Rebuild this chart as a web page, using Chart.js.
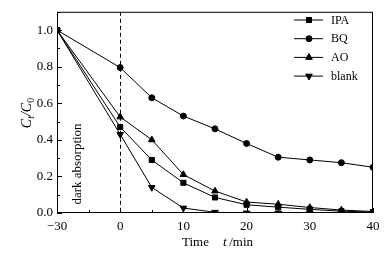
<!DOCTYPE html>
<html>
<head>
<meta charset="utf-8">
<script src="https://cdn.jsdelivr.net/npm/chart.js@4"></script>
<style>
  html, body { margin: 0; padding: 0; background: #fff; }
  #wrap { width: 389px; height: 254px; }
</style>
</head>
<body>
<div id="wrap"><canvas id="decayChart" width="389" height="254"></canvas></div>
<script>
// time (min) and C_t/C_0 values
const times = [-30, 0, 5, 10, 15, 20, 25, 30, 35, 40];
const ipa   = [1.0, 0.47, 0.29, 0.165, 0.085, 0.045, 0.032, 0.02, 0.01, 0.005];
const bq    = [1.0, 0.795, 0.63, 0.53, 0.46, 0.38, 0.305, 0.29, 0.275, 0.25];
const ao    = [1.0, 0.525, 0.40, 0.21, 0.12, 0.06, 0.048, 0.03, 0.016, 0.008];
const blank = [1.0, 0.43, 0.14, 0.027, 0.004, 0.0, 0.0, 0.0, 0.0, 0.0];
const seriesNames = ["IPA", "BQ", "AO", "blank"];
const xTickLabels = ["\u221230", "0", "10", "20", "30", "40"];

// the dark-absorption span (-30..0) is squeezed to look like 10 min on the axis
function axisPos(t) { return t < 0 ? t / 3 : t; }
function realTime(p) { return p < 0 ? p * 3 : p; }

const serif = "'Liberation Serif', 'DejaVu Serif', serif";
const styles = [
  { pointStyle: "rect", radius: 3.6, rotation: 0 },
  { pointStyle: "circle", radius: 3, rotation: 0 },
  { pointStyle: "triangle", radius: 3.8, rotation: 0 },
  { pointStyle: "triangle", radius: 3.8, rotation: 180 }
];

const datasets = [ipa, bq, ao, blank].map(function (vals, i) {
  return {
    label: seriesNames[i],
    data: vals.map(function (v, k) { return { x: axisPos(times[k]), y: v }; }),
    borderColor: "#000",
    backgroundColor: "#000",
    borderWidth: 1,
    pointStyle: styles[i].pointStyle,
    pointRadius: styles[i].radius,
    pointRotation: styles[i].rotation,
    pointBorderWidth: 1,
    tension: 0
  };
});

// inward ticks, dashed line at t = 0, box, legend and titles
const decorations = {
  id: "decorations",
  afterDraw(chart) {
    const ctx = chart.ctx;
    const a = chart.chartArea;
    const xs = chart.scales.x, ys = chart.scales.y;
    ctx.save();
    ctx.strokeStyle = "#000";
    ctx.lineWidth = 1;

    // frame
    ctx.strokeRect(a.left + 0.5, a.top + 0.5, a.right - a.left - 1, a.bottom - a.top - 1);

    // x ticks (inward)
    for (let p = -10; p <= 40; p += 5) {
      const px = Math.round(xs.getPixelForValue(p)) + 0.5;
      const len = (p % 10 === 0) ? 5 : 3;
      ctx.beginPath();
      ctx.moveTo(px, a.bottom);
      ctx.lineTo(px, a.bottom - len);
      ctx.stroke();
    }
    // y ticks (inward)
    for (let k = 0; k <= 11; k++) {
      const py = Math.round(ys.getPixelForValue(k / 10)) + 0.5;
      const len = (k % 2 === 0) ? 5 : 3;
      ctx.beginPath();
      ctx.moveTo(a.left, py);
      ctx.lineTo(a.left + len, py);
      ctx.stroke();
    }

    // dashed line at t = 0
    const x0 = Math.round(xs.getPixelForValue(0)) + 0.5;
    ctx.setLineDash([4, 3]);
    ctx.beginPath();
    ctx.moveTo(x0, a.top);
    ctx.lineTo(x0, a.bottom);
    ctx.stroke();
    ctx.setLineDash([]);

    // legend
    ctx.font = "12px " + serif;
    ctx.textBaseline = "middle";
    ctx.fillStyle = "#000";
    chart.data.datasets.forEach(function (ds, i) {
      const y = 20 + i * 18.7;
      ctx.beginPath();
      ctx.moveTo(294, y);
      ctx.lineTo(323, y);
      ctx.stroke();
      Chart.helpers.drawPoint(ctx, {
        pointStyle: ds.pointStyle, radius: ds.pointRadius,
        rotation: ds.pointRotation, borderWidth: 1
      }, 309, y);
      ctx.fill();
      ctx.fillText(ds.label, 331, y + 0.5);
    });

    // "dark absorption"
    ctx.save();
    ctx.translate(78, 164);
    ctx.rotate(-Math.PI / 2);
    ctx.textAlign = "center";
    ctx.font = "13px " + serif;
    ctx.fillText("dark absorption", 0, 0);
    ctx.restore();

    // y title C_t / C_0
    ctx.save();
    ctx.translate(27, 113);
    ctx.rotate(-Math.PI / 2);
    ctx.textAlign = "left";
    const big = "italic 14px " + serif, small = "10px " + serif, smallI = "italic 10px " + serif;
    const parts = [["C", big, 0], ["t", smallI, 4], ["/", big, 0], ["C", big, 0], ["0", small, 4]];
    let w = 0;
    parts.forEach(function (p) { ctx.font = p[1]; w += ctx.measureText(p[0]).width; });
    let cx = -w / 2;
    parts.forEach(function (p) {
      ctx.font = p[1];
      ctx.fillText(p[0], cx, p[2]);
      cx += ctx.measureText(p[0]).width;
    });
    ctx.restore();

    // x title
    ctx.font = "13px " + serif;
    ctx.textAlign = "left";
    ctx.fillText("Time", 182, 243);
    ctx.font = "italic 13px " + serif;
    ctx.fillText("t", 223, 243);
    ctx.font = "13px " + serif;
    ctx.fillText(" /min", 226, 243);

    ctx.restore();
  }
};

new Chart(document.getElementById("decayChart").getContext("2d"), {
  type: "line",
  data: { datasets: datasets },
  options: {
    responsive: false,
    animation: false,
    layout: { padding: { top: 6, right: 16, left: 0, bottom: 0 } },
    plugins: { legend: { display: false }, tooltip: { enabled: false } },
    scales: {
      x: {
        type: "linear",
        min: -10,
        max: 40,
        border: { display: false },
        grid: { display: false, drawTicks: false },
        afterFit(scale) { scale.height = 41; },
        afterBuildTicks(scale) {
          scale.ticks = [-10, 0, 10, 20, 30, 40].map(function (v) { return { value: v }; });
        },
        ticks: {
          padding: 6,
          color: "#000",
          font: { family: serif, size: 13 },
          maxRotation: 0,
          callback: function (v) {
            const t = realTime(v);
            return t < 0 ? xTickLabels[0] : String(t);
          }
        }
      },
      y: {
        min: 0,
        max: 1.1,
        border: { display: false },
        grid: { display: false, drawTicks: false },
        afterFit(scale) { scale.width = 57; },
        afterBuildTicks(scale) {
          scale.ticks = [0, 0.2, 0.4, 0.6, 0.8, 1.0].map(function (v) { return { value: v }; });
        },
        ticks: {
          padding: 4,
          color: "#000",
          font: { family: serif, size: 13 },
          callback: function (v) { return v.toFixed(1); }
        }
      }
    }
  },
  plugins: [decorations]
});
</script>
</body>
</html>
